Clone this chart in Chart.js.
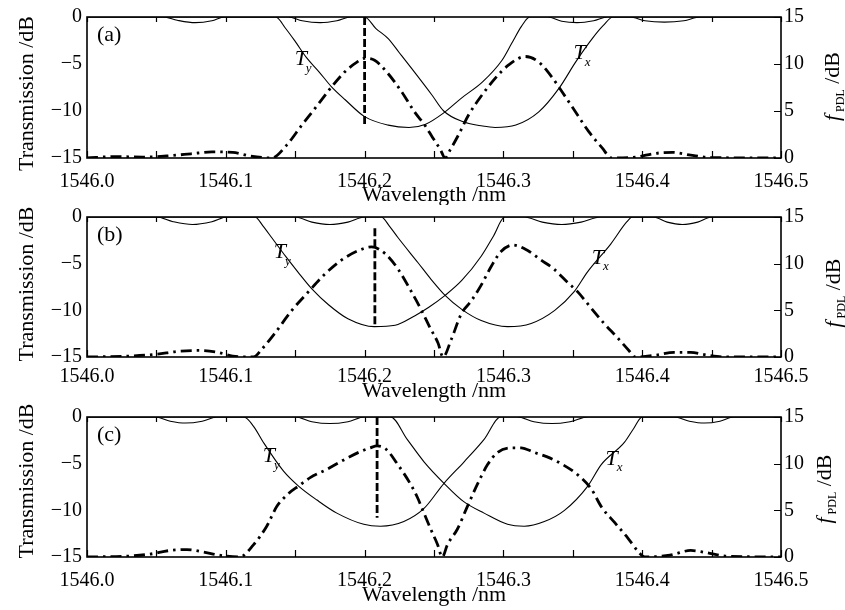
<!DOCTYPE html>
<html>
<head>
<meta charset="utf-8">
<script src="https://cdn.jsdelivr.net/npm/chart.js@4.4.0/dist/chart.umd.min.js"></script>
<style>
  html, body { margin: 0; padding: 0; background: #fff; }
  #wrap { position: relative; width: 845px; height: 610px; overflow: hidden; }
  #wrap canvas { position: absolute; left: 0; }
</style>
</head>
<body>
<div id="wrap">
  <canvas id="cA" width="845" height="205" style="top:0px"></canvas>
  <canvas id="cB" width="845" height="205" style="top:200px"></canvas>
  <canvas id="cC" width="845" height="210" style="top:400px"></canvas>
</div>
<script>
// ---- data (wavelength nm, dB) ----
const tyA = [[1546.000,0],[1546.055,0],[1546.065,-0.35],[1546.078,-0.6],[1546.090,-0.4],[1546.099,0],[1546.136,0],[1546.143,-1.2],[1546.150,-2.6],[1546.158,-4.3],[1546.167,-5.8],[1546.176,-7.4],[1546.186,-8.8],[1546.200,-10.6],[1546.217,-11.5],[1546.232,-11.75],[1546.244,-11.4],[1546.257,-10.2],[1546.270,-8.6],[1546.285,-6.9],[1546.299,-4.6],[1546.306,-2.8],[1546.313,-1.0],[1546.319,0],[1546.332,0],[1546.342,-0.45],[1546.353,-0.6],[1546.365,-0.4],[1546.375,0],[1546.500,0]];
const txA = [[1546.000,0],[1546.145,0],[1546.155,-0.4],[1546.168,-0.6],[1546.180,-0.4],[1546.190,0],[1546.200,0],[1546.208,-1.2],[1546.217,-2.3],[1546.225,-3.8],[1546.234,-5.5],[1546.2485,-8.3],[1546.257,-10.0],[1546.270,-11.1],[1546.285,-11.6],[1546.294,-11.75],[1546.309,-11.5],[1546.3255,-10.1],[1546.340,-7.6],[1546.352,-4.8],[1546.364,-2.3],[1546.372,-0.9],[1546.379,0],[1546.391,0],[1546.402,-0.4],[1546.416,-0.55],[1546.430,-0.4],[1546.442,0],[1546.500,0]];
const pdlA = [[1546.000,0],[1546.020,0.15],[1546.040,0.1],[1546.060,0.25],[1546.075,0.45],[1546.090,0.65],[1546.105,0.6],[1546.118,0.2],[1546.133,0],[1546.144,1.4],[1546.1548,3.5],[1546.1644,5.3],[1546.1764,7.6],[1546.186,9.2],[1546.1945,10.2],[1546.200,10.6],[1546.2072,10.4],[1546.2168,9.0],[1546.2264,7.1],[1546.236,4.9],[1546.2438,3.4],[1546.2485,2.3],[1546.2546,0.9],[1546.258,0],[1546.2618,0.9],[1546.2678,2.5],[1546.275,4.6],[1546.2846,6.7],[1546.2942,8.5],[1546.3038,9.9],[1546.3159,10.8],[1546.3255,10.2],[1546.335,8.6],[1546.342,7.1],[1546.352,4.9],[1546.3615,2.8],[1546.371,1.1],[1546.378,0],[1546.395,0.1],[1546.410,0.5],[1546.422,0.6],[1546.435,0.3],[1546.450,0.05],[1546.500,0]];

const tyB = [[1546.000,0],[1546.050,0],[1546.062,-0.5],[1546.076,-0.8],[1546.090,-0.5],[1546.101,0],[1546.121,0],[1546.127,-1.0],[1546.133,-2.2],[1546.143,-4.2],[1546.152,-5.9],[1546.162,-7.7],[1546.174,-9.4],[1546.188,-10.9],[1546.207,-11.75],[1546.222,-11.6],[1546.236,-10.6],[1546.246,-9.7],[1546.258,-8.4],[1546.270,-6.8],[1546.284,-4.2],[1546.293,-2.0],[1546.301,0],[1546.315,0],[1546.328,-0.55],[1546.342,-0.8],[1546.356,-0.55],[1546.370,0],[1546.500,0]];
const txB = [[1546.000,0],[1546.150,0],[1546.162,-0.55],[1546.175,-0.8],[1546.188,-0.55],[1546.200,0],[1546.212,0],[1546.218,-1.0],[1546.224,-2.2],[1546.2385,-4.9],[1546.248,-6.7],[1546.258,-8.4],[1546.270,-9.9],[1546.284,-11.1],[1546.303,-11.75],[1546.320,-11.4],[1546.337,-10.0],[1546.351,-8.0],[1546.3605,-5.9],[1546.3773,-2.9],[1546.389,-0.5],[1546.393,0],[1546.408,0],[1546.418,-0.55],[1546.429,-0.8],[1546.440,-0.55],[1546.450,0],[1546.500,0]];
const pdlB = [[1546.000,0],[1546.030,0.1],[1546.050,0.3],[1546.065,0.6],[1546.080,0.7],[1546.094,0.5],[1546.105,0.1],[1546.120,0],[1546.126,0.85],[1546.1356,2.6],[1546.1476,5.0],[1546.1596,7.0],[1546.1715,8.9],[1546.1835,10.4],[1546.1955,11.4],[1546.205,11.8],[1546.2146,11.1],[1546.2242,9.4],[1546.2337,7.0],[1546.241,5.0],[1546.2469,3.2],[1546.2529,1.5],[1546.2565,0],[1546.2625,1.9],[1546.2696,4.6],[1546.2768,6.0],[1546.284,7.7],[1546.2912,9.7],[1546.2983,11.3],[1546.3067,12.0],[1546.3175,11.4],[1546.327,10.4],[1546.3366,9.4],[1546.3462,8.0],[1546.3534,7.0],[1546.3629,5.3],[1546.3725,3.6],[1546.382,2.1],[1546.3904,0.7],[1546.395,0],[1546.410,0.2],[1546.423,0.5],[1546.435,0.5],[1546.447,0.2],[1546.460,0],[1546.500,0]];

const tyC = [[1546.000,0],[1546.049,0],[1546.060,-0.45],[1546.071,-0.65],[1546.083,-0.45],[1546.094,0],[1546.113,0],[1546.120,-1.0],[1546.127,-2.7],[1546.1416,-5.8],[1546.1524,-7.4],[1546.1657,-8.9],[1546.180,-10.3],[1546.1994,-11.5],[1546.2114,-11.7],[1546.2283,-11.2],[1546.2428,-9.8],[1546.2572,-7.1],[1546.2717,-4.8],[1546.2861,-2.4],[1546.298,0],[1546.310,0],[1546.322,-0.5],[1546.335,-0.7],[1546.348,-0.5],[1546.361,0],[1546.500,0]];
const txC = [[1546.000,0],[1546.150,0],[1546.162,-0.5],[1546.175,-0.7],[1546.188,-0.5],[1546.200,0],[1546.2187,0],[1546.2307,-2.4],[1546.2428,-4.8],[1546.2572,-7.1],[1546.2717,-9.1],[1546.2861,-10.3],[1546.303,-11.5],[1546.315,-11.7],[1546.3295,-11.2],[1546.344,-10.0],[1546.3608,-7.4],[1546.3705,-5.1],[1546.3873,-2.7],[1546.394,-1.2],[1546.400,0],[1546.423,0],[1546.434,-0.45],[1546.445,-0.65],[1546.456,-0.45],[1546.466,0],[1546.500,0]];
const pdlC = [[1546.000,0],[1546.030,0.1],[1546.045,0.3],[1546.060,0.7],[1546.072,0.8],[1546.085,0.5],[1546.095,0.2],[1546.110,0],[1546.1199,1.3],[1546.1295,3.3],[1546.1367,5.4],[1546.1452,6.8],[1546.1524,7.6],[1546.1608,8.5],[1546.1729,9.4],[1546.185,10.4],[1546.197,11.3],[1546.2042,11.7],[1546.209,11.9],[1546.2151,11.6],[1546.2235,10.0],[1546.2331,7.8],[1546.238,6.4],[1546.2428,4.7],[1546.2476,3.0],[1546.2524,1.4],[1546.256,0],[1546.2596,1.3],[1546.2669,3.0],[1546.274,5.4],[1546.2813,7.8],[1546.2886,9.9],[1546.2958,11.2],[1546.3054,11.7],[1546.3127,11.7],[1546.3223,11.2],[1546.332,10.7],[1546.3416,10.0],[1546.3536,8.8],[1546.3633,7.3],[1546.3705,5.4],[1546.3801,3.7],[1546.3898,2.0],[1546.397,0.6],[1546.4018,0],[1546.420,0.2],[1546.435,0.7],[1546.445,0.5],[1546.460,0.1],[1546.500,0]];

// vertical dashed marker per panel (wavelength, top, bottom on f_PDL axis)
const markWl = [1546.200, 1546.2074, 1546.209];
const markTop = [15, 13.8, 15];
const markBot = [3.5, 3.2, 4.2];

// curve labels: [wavelength, transmission dB]
const labTy = [[1546.154, -4.5], [1546.139, -3.8], [1546.131, -4.2]];
const labTx = [[1546.355, -3.9], [1546.368, -4.4], [1546.378, -4.5]];
const panelTags = ['(a)', '(b)', '(c)'];

const xTicks = [1546.0, 1546.1, 1546.2, 1546.3, 1546.4, 1546.5];
const yLeftTicks = [0, -5, -10, -15];
const yRightTicks = [0, 5, 10, 15];

const SERIF = '"Liberation Serif", "Times New Roman", serif';

// layout of each panel (canvas ids and pixel tweaks)
const panels = [
  { id: 'cA', ty: tyA, tx: txA, pdl: pdlA, padTop: 15, xH: 47, xPad: 12, xTitleDy: 37, lTitleDy: 6,  rTitleX: 839, rTitleDy: -1 },
  { id: 'cB', ty: tyB, tx: txB, pdl: pdlB, padTop: 10, xH: 48, xPad: 8,  xTitleDy: 34, lTitleDy: -3, rTitleX: 840, rTitleDy: 6 },
  { id: 'cC', ty: tyC, tx: txC, pdl: pdlC, padTop: 12, xH: 53, xPad: 12, xTitleDy: 38, lTitleDy: -6, rTitleX: 831, rTitleDy: 2 }
];

function toPts(pairs) {
  return pairs.map(p => ({ x: p[0], y: p[1] }));
}

function subLabel(ctx, x, y, main, sub) {
  ctx.textAlign = 'left';
  ctx.textBaseline = 'middle';
  ctx.font = 'italic 22px ' + SERIF;
  const w = ctx.measureText(main).width;
  ctx.fillText(main, x - w / 2, y);
  ctx.font = 'italic 13px ' + SERIF;
  ctx.fillText(sub, x + w / 2 - 1, y + 9);
}

// frame, inward ticks and all the text that chart.js can't lay out like the figure
const decoPlugin = {
  id: 'deco',
  afterDatasetsDraw(chart, args, o) {
    const { ctx, chartArea: a, scales } = chart;
    ctx.save();
    ctx.strokeStyle = '#000';
    ctx.lineWidth = 1.6;
    ctx.strokeRect(a.left, a.top, a.right - a.left, a.bottom - a.top);

    ctx.lineWidth = 1.2;
    ctx.beginPath();
    scales.x.ticks.forEach(t => {
      const px = Math.round(scales.x.getPixelForValue(t.value)) + 0.5;
      ctx.moveTo(px, a.bottom); ctx.lineTo(px, a.bottom - 7);
      ctx.moveTo(px, a.top); ctx.lineTo(px, a.top + 5);
    });
    scales.y2.ticks.forEach(t => {
      const py = Math.round(scales.y2.getPixelForValue(t.value)) + 0.5;
      ctx.moveTo(a.right, py); ctx.lineTo(a.right - 7, py);
    });
    ctx.stroke();

    ctx.fillStyle = '#000';
    // panel tag
    ctx.font = '22px ' + SERIF;
    ctx.textAlign = 'left';
    ctx.textBaseline = 'middle';
    ctx.fillText(o.tag, a.left + 10, a.top + 18);

    // curve labels
    subLabel(ctx, scales.x.getPixelForValue(o.ty[0]), scales.y.getPixelForValue(o.ty[1]), 'T', 'y');
    subLabel(ctx, scales.x.getPixelForValue(o.tx[0]), scales.y.getPixelForValue(o.tx[1]), 'T', 'x');

    const yc = (a.top + a.bottom) / 2;
    // x title
    ctx.font = '22px ' + SERIF;
    ctx.textAlign = 'center';
    ctx.textBaseline = 'middle';
    ctx.fillText('Wavelength /nm', (a.left + a.right) / 2, a.bottom + o.xTitleDy);

    // left title
    ctx.save();
    ctx.translate(33, yc + o.lTitleDy);
    ctx.rotate(-Math.PI / 2);
    ctx.textAlign = 'center';
    ctx.textBaseline = 'alphabetic';
    ctx.fillText('Transmission /dB', 0, 0);
    ctx.restore();

    // right title f_PDL /dB
    ctx.save();
    ctx.translate(o.rTitleX, yc + o.rTitleDy);
    ctx.rotate(-Math.PI / 2);
    ctx.textAlign = 'left';
    ctx.textBaseline = 'alphabetic';
    ctx.font = 'italic 22px ' + SERIF;
    const wf = ctx.measureText('f').width;
    ctx.font = '12px ' + SERIF;
    const ws = ctx.measureText('PDL').width;
    ctx.font = '22px ' + SERIF;
    const wd = ctx.measureText(' /dB').width;
    const x0 = -(wf + ws + wd + 3) / 2;
    ctx.font = 'italic 22px ' + SERIF;
    ctx.fillText('f', x0, 0);
    ctx.font = '12px ' + SERIF;
    ctx.fillText('PDL', x0 + wf + 3, 5);
    ctx.font = '22px ' + SERIF;
    ctx.fillText(' /dB', x0 + wf + 3 + ws, 0);
    ctx.restore();

    ctx.restore();
  }
};

panels.forEach((p, i) => {
  const thin = { borderColor: '#000', borderWidth: 1.1, pointRadius: 0, cubicInterpolationMode: 'monotone', yAxisID: 'y' };
  new Chart(document.getElementById(p.id), {
    type: 'line',
    data: {
      datasets: [
        Object.assign({ data: toPts(p.ty) }, thin),
        Object.assign({ data: toPts(p.tx) }, thin),
        {
          data: toPts(p.pdl), yAxisID: 'y2',
          borderColor: '#000', borderWidth: 2.8, borderDash: [11, 5, 2.5, 5],
          pointRadius: 0, cubicInterpolationMode: 'monotone'
        },
        {
          data: [{ x: markWl[i], y: markTop[i] }, { x: markWl[i], y: markBot[i] }], yAxisID: 'y2',
          borderColor: '#000', borderWidth: 2.8, borderDash: [8, 3], pointRadius: 0, tension: 0
        }
      ]
    },
    options: {
      responsive: false,
      animation: false,
      layout: { padding: { top: p.padTop, left: 0, right: 0, bottom: 0 } },
      plugins: {
        legend: { display: false },
        tooltip: { enabled: false },
        deco: { tag: panelTags[i], ty: labTy[i], tx: labTx[i], xTitleDy: p.xTitleDy, lTitleDy: p.lTitleDy, rTitleX: p.rTitleX, rTitleDy: p.rTitleDy }
      },
      scales: {
        x: {
          type: 'linear', min: 1546.0, max: 1546.5,
          grid: { display: false, drawTicks: false },
          border: { display: false },
          ticks: {
            stepSize: 0.05, autoSkip: false, maxRotation: 0, padding: p.xPad,
            color: '#000', font: { family: SERIF, size: 20 },
            callback: v => xTicks.some(t => Math.abs(t - v) < 1e-6) ? v.toFixed(1) : ''
          },
          afterFit: s => { s.height = p.xH; }
        },
        y: {
          position: 'left', min: -15, max: 0,
          grid: { display: false, drawTicks: false },
          border: { display: false },
          afterBuildTicks: s => { s.ticks = yLeftTicks.map(v => ({ value: v })); },
          ticks: {
            padding: 5, color: '#000', font: { family: SERIF, size: 20 },
            callback: v => v < 0 ? '\u2212' + Math.abs(v) : String(v)
          },
          afterFit: s => { s.width = 87; }
        },
        y2: {
          position: 'right', min: 0, max: 15,
          grid: { display: false, drawTicks: false },
          border: { display: false },
          afterBuildTicks: s => { s.ticks = yRightTicks.map(v => ({ value: v })); },
          ticks: { padding: 3, color: '#000', font: { family: SERIF, size: 20 } },
          afterFit: s => { s.width = 64; }
        }
      }
    },
    plugins: [decoPlugin]
  });
});
</script>
</body>
</html>
